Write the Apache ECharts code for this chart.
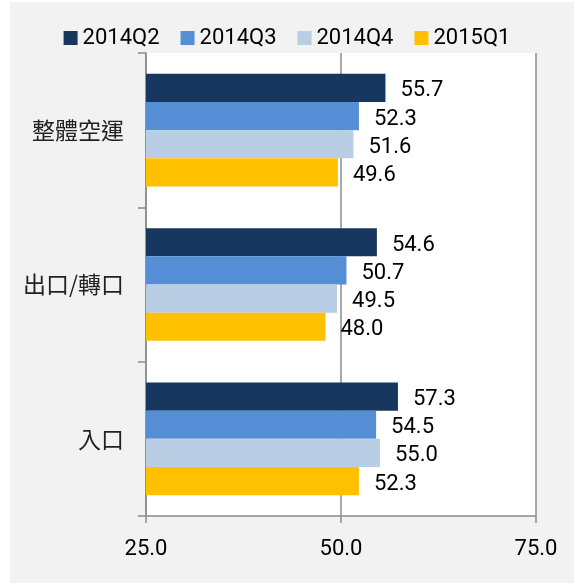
<!DOCTYPE html>
<html><head><meta charset="utf-8">
<script src="https://cdn.jsdelivr.net/npm/echarts@6/dist/echarts.min.js"></script>
<style>
html,body{margin:0;padding:0;background:#fff;}
#bg{position:absolute;left:10px;top:2px;width:564px;height:581px;background:#f2f2f2;}
#chart{position:absolute;left:0;top:0;width:574px;height:583px;}
</style></head>
<body>
<div id="bg"></div>
<div id="chart"></div>
<script>
const categories = ['整體空運', '出口/轉口', '入口'];
const seriesNames = ['2014Q2', '2014Q3', '2014Q4', '2015Q1'];
const q2_2014 = [55.7, 54.6, 57.3];
const q3_2014 = [52.3, 50.7, 54.5];
const q4_2014 = [51.6, 49.5, 55.0];
const q1_2015 = [49.6, 48.0, 52.3];
const xTicks = [25, 50, 75];
const colors = ['#17375e', '#558ed5', '#b9cde5', '#ffc000'];
const values = [q2_2014, q3_2014, q4_2014, q1_2015];

const chart = echarts.init(document.getElementById('chart'));
const numFont = 'Roboto, "Liberation Sans", sans-serif';
chart.setOption({
  backgroundColor: 'transparent',
  animation: false,
  legend: {
    top: 22,
    left: 'center',
    itemWidth: 14,
    itemHeight: 14,
    itemGap: 21,
    icon: 'rect',
    textStyle: {fontFamily: numFont, fontSize: 22, color: '#000'},
    data: seriesNames
  },
  grid: {
    left: 146, right: 38, top: 53, bottom: 67,
    show: true, backgroundColor: '#fff', borderWidth: 0
  },
  xAxis: {
    type: 'value',
    min: xTicks[0], max: xTicks[xTicks.length-1], interval: 25,
    axisLine: {show: true, lineStyle: {color: '#8c8c8c', width: 1.5}},
    axisTick: {show: true, length: 7, lineStyle: {color: '#8c8c8c', width: 1.5}},
    splitLine: {show: true, lineStyle: {color: '#8c8c8c', width: 1.5}},
    axisLabel: {fontFamily: numFont, fontSize: 22, color: '#000', margin: 22,
      formatter: v => v.toFixed(1)}
  },
  yAxis: {
    type: 'category',
    inverse: true,
    data: categories,
    axisLine: {show: true, lineStyle: {color: '#8c8c8c', width: 1.5}},
    axisTick: {show: true, length: 8, lineStyle: {color: '#8c8c8c', width: 1.5}},
    axisLabel: {fontFamily: '"Noto Sans CJK TC", sans-serif', fontSize: 23, color: '#222', margin: 22}
  },
  series: seriesNames.map((n, i) => ({
    name: n,
    type: 'bar',
    data: values[i],
    barGap: '0%',
    barCategoryGap: '27%',
    itemStyle: {color: colors[i]},
    label: {show: true, position: 'right', distance: 15, offset: [0, 3],
      fontFamily: numFont, fontSize: 22, color: '#000',
      formatter: p => p.value.toFixed(1)}
  }))
});
</script>
</body></html>
